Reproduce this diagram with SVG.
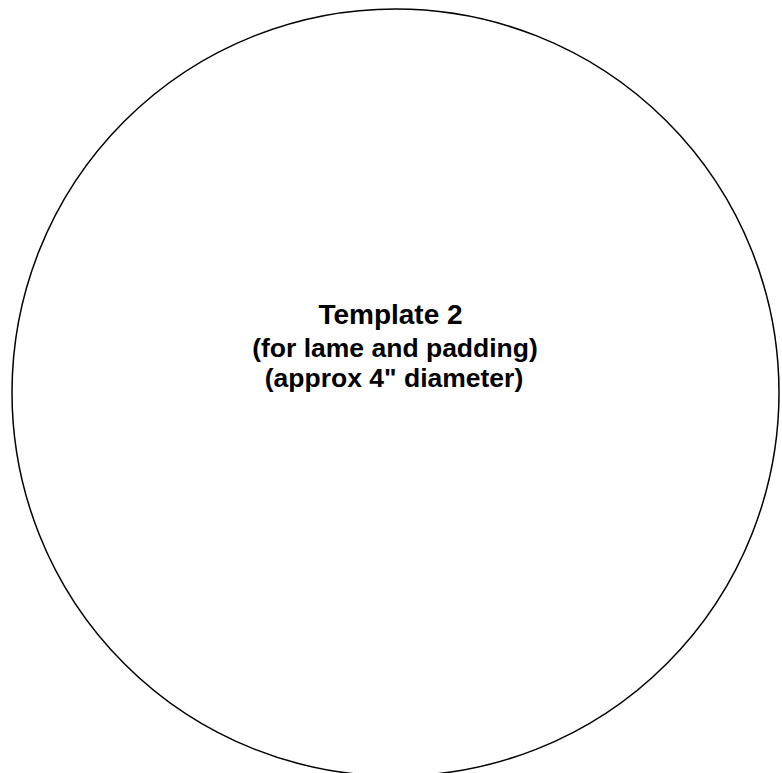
<svg xmlns="http://www.w3.org/2000/svg" width="782" height="773" viewBox="0 0 782 773">
<style>
.outline{fill:#fff;stroke:#000;stroke-width:1.5}
.t{font-family:"Liberation Sans",Arial,sans-serif;font-weight:bold;fill:#000;text-anchor:middle}
</style>
<rect width="782" height="773" fill="#fff"/>
<g id="template2">
<circle class="outline" cx="395.5" cy="392.5" r="383.5"/>
<text class="t" x="390.5" y="324" font-size="28">Template 2</text>
<text class="t" x="395" y="357" font-size="26.5">(for lame and padding)</text>
<text class="t" x="394" y="387" font-size="26.5">(approx 4" diameter)</text>
</g>
<g id="connectors"/>
</svg>
